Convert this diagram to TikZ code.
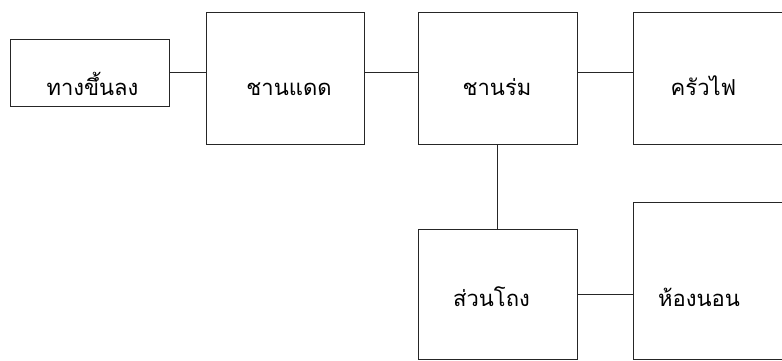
\documentclass[tikz,border=0pt]{standalone}
\usepackage{fontspec}
\newfontfamily\thaifont[Script=Thai]{Loma}

\begin{document}
\begin{tikzpicture}[x=1pt,y=-1pt,
  room/.style={draw=black!85,line width=0.8pt,inner sep=0pt,minimum width=159pt},
  roomname/.style={anchor=base,inner sep=0pt,font=\thaifont\fontsize{22}{26}\selectfont},
  link/.style={draw=black!85,line width=0.8pt}]
\useasboundingbox (0,0) rectangle (782,360);
%\draw[step=20pt,gray,very thin] (0,0) grid (782,360); %background grid
\node[room,minimum height=67pt]  (stair)   at (89.5,72.5) {}; %1
\node[room,minimum height=132pt,minimum width=158pt] (sunterr) at (285,78) {}; %2
\node[room,minimum height=132pt] (shadeterr) at (497.5,78) {}; %3
\node[room,minimum height=132pt] (kitchen) at (712.5,78) {}; %4
\node[room,minimum height=130pt] (hall)    at (497.5,294) {}; %5
\node[room,minimum height=157pt] (bedroom) at (712.5,280.5) {}; %6
\node[roomname] (stairtxt)     at (92.5,95)  {ทางขึ้นลง};
\node[roomname] (suntxt)       at (289,95)   {ชานแดด};
\node[roomname] (shadetxt)     at (497,95)   {ชานร่ม};
\node[roomname] (kitchentxt)   at (703.5,95) {ครัวไฟ};
\node[roomname] (halltxt)      at (491.5,306) {ส่วนโถง};
\node[roomname] (bedroomtxt)   at (699,306)  {ห้องนอน};
\draw[link] (stair.east) -- (stair.east -| sunterr.west);
\draw[link] (stair.east -| sunterr.east) -- (stair.east -| shadeterr.west);
\draw[link] (stair.east -| shadeterr.east) -- (stair.east -| kitchen.west);
\draw[link] (shadeterr.south) -- (hall.north);
\draw[link] (hall.east) -- (hall.east -| bedroom.west);
\end{tikzpicture}
\end{document}
